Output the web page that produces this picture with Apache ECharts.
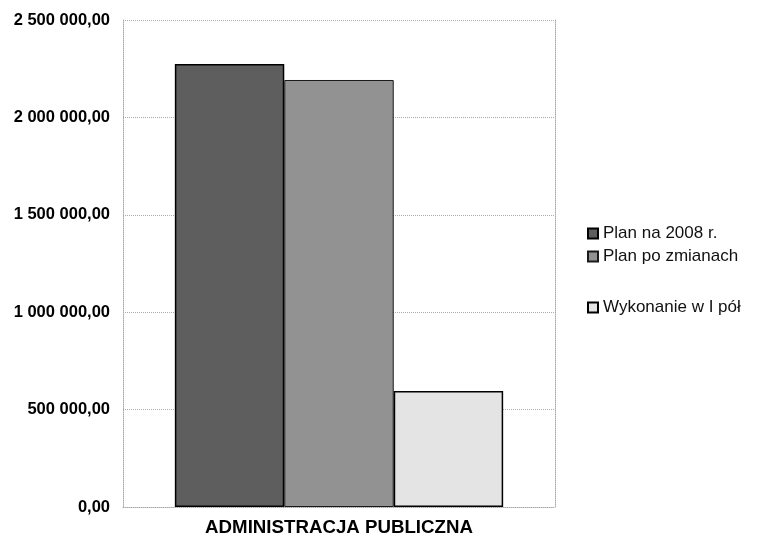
<!DOCTYPE html>
<html>
<head>
<meta charset="utf-8">
<script src="https://cdn.jsdelivr.net/npm/echarts@6/dist/echarts.min.js"></script>
<style>
html,body{margin:0;padding:0;background:#fff;}
#chart{width:757px;height:539px;}
</style>
</head>
<body>
<div id="chart"></div>
<script>
const categories = ['ADMINISTRACJA PUBLICZNA'];
const seriesNames = ['Plan na 2008 r.', 'Plan po zmianach', 'Wykonanie w I pół'];
const planNa2008 = [2274000];
const planPoZmianach = [2192000];
const wykonanie = [595000];
const yTicks = [0, 500000, 1000000, 1500000, 2000000, 2500000];

function fmt(v) {
  const s = Math.round(v).toString().replace(/\B(?=(\d{3})+(?!\d))/g, ' ');
  return s + ',00';
}

const chart = echarts.init(document.getElementById('chart'), null, {renderer: 'canvas'});
const FONT = '"Liberation Sans", Arial, sans-serif';
const grid = '#ababab';
chart.setOption({
  animation: false,
  backgroundColor: '#fff',
  grid: {left: 123, right: 202, top: 20, bottom: 32},
  legend: [{
    data: [seriesNames[0], seriesNames[1]],
    orient: 'vertical', left: 587, top: 225, padding: 0,
    itemWidth: 10, itemHeight: 10, itemGap: 6,
    icon: 'rect',
    textStyle: {fontFamily: FONT, fontSize: 17, color: '#111'}
  }, {
    data: [seriesNames[2]],
    orient: 'vertical', left: 587, top: 299, padding: 0,
    itemWidth: 10, itemHeight: 10,
    icon: 'rect',
    textStyle: {fontFamily: FONT, fontSize: 17, color: '#111'}
  }],
  xAxis: {
    type: 'category',
    data: categories,
    axisLine: {show: true, lineStyle: {color: grid, type: 'dotted', width: 1}},
    axisTick: {show: false},
    axisLabel: {fontFamily: FONT, fontWeight: 'bold', fontSize: 18.7, color: '#000', margin: 11}
  },
  yAxis: [{
    type: 'value',
    min: yTicks[0], max: yTicks[yTicks.length - 1], interval: 500000,
    axisLine: {show: true, lineStyle: {color: grid, type: 'dotted'}},
    axisTick: {show: false},
    splitLine: {show: true, lineStyle: {color: grid, type: 'dotted'}},
    axisLabel: {fontFamily: FONT, fontWeight: 'bold', fontSize: 16.5, color: '#000', margin: 13, formatter: fmt}
  }, {
    type: 'value', position: 'right',
    min: yTicks[0], max: yTicks[yTicks.length - 1], interval: 500000,
    axisLine: {show: true, lineStyle: {color: grid, type: 'dotted'}},
    axisTick: {show: false}, splitLine: {show: false}, axisLabel: {show: false}
  }],
  series: [{
    name: seriesNames[0], type: 'bar', data: planNa2008,
    barGap: '0%', barCategoryGap: '24%',
    itemStyle: {color: '#5e5e5e', borderColor: '#000', borderWidth: 1.5}
  }, {
    name: seriesNames[1], type: 'bar', data: planPoZmianach,
    itemStyle: {color: '#929292', borderColor: '#1a1a1a', borderWidth: 1}
  }, {
    name: seriesNames[2], type: 'bar', data: wykonanie,
    itemStyle: {color: '#e4e4e4', borderColor: '#000', borderWidth: 1.5}
  }]
});
</script>
</body>
</html>
